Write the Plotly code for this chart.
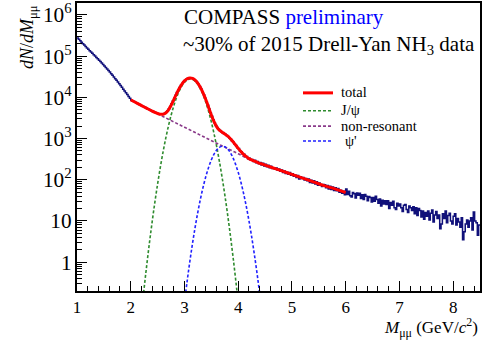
import numpy as np
import plotly.graph_objects as go

# ---------------- data ----------------
bin_lo, bin_hi = 1.0, 8.5          # histogram range, 0.025 GeV bins
data_counts = [
    # 1.00 - 2.00
    277000, 255600, 235800, 217600, 200900, 185800, 171400, 158500, 146600, 135800,
    125900, 116700, 108100, 100200, 93100, 86300, 79900, 73700, 68000, 62700,
    57750, 53040, 48700, 44720, 40960, 37430, 34200, 31230, 28440, 25820,
    23440, 21280, 19280, 17450, 15790, 14290, 12900, 11700, 10550, 9500,
    # 2.00 - 3.00
    8541, 8204, 7880, 7568, 7270, 6983, 6707, 6442, 6191, 5953,
    5728, 5515, 5308, 5105, 4911, 4726, 4557, 4402, 4258, 4126,
    4019, 3938, 3895, 3892, 3962, 4105, 4364, 4737, 5283, 6003,
    6943, 8100, 9509, 11168, 13036, 15111, 17294, 19586, 21800, 23936,
    # 3.00 - 4.00
    25798, 27386, 28523, 29210, 29365, 28988, 28111, 26732, 24998, 22909,
    20670, 18282, 15932, 13622, 11496, 9558, 7862, 6409, 5196, 4222,
    3460, 2840, 2420, 2075, 1860, 1675, 1575, 1460, 1405, 1315,
    1270, 1180, 1125, 1030, 975, 872, 818, 726, 678, 600,
    # 4.00 - 5.00
    575, 495, 478, 418, 415, 366, 368, 322, 334, 296,
    312, 278, 296, 258, 278, 243, 262, 229, 250, 217,
    238, 206, 226, 196, 214, 188, 196, 181, 192, 170,
    182, 160, 172, 150, 164, 141, 153, 136, 151, 128,
    # 5.00 - 6.00
    139, 121, 131, 113, 127, 105, 119, 108, 114, 99,
    107, 95, 104, 86, 98, 84, 94, 79, 89, 74,
    84, 75, 69, 77, 76, 64, 73, 60, 70, 58,
    67, 55, 64, 54, 61, 50, 56, 47, 53, 43,
    # 6.00 - 7.00
    60, 44, 53, 41, 38, 49, 46, 36, 48, 42,
    47, 35, 43, 33, 44, 40, 31, 39, 37, 29,
    37, 30, 40, 33, 27, 34, 23, 32, 26, 31,
    25, 31, 20, 28, 24, 30, 21, 19, 27, 23,
    # 7.00 - 8.00
    26, 21, 17, 24, 25, 19, 16, 23, 21, 18,
    22, 15, 21, 13.5, 20, 18, 12.5, 17.5, 11, 16,
    13, 17.5, 10.5, 15.5, 18.5, 9.5, 14, 17, 11.5, 14,
    6.5, 8.5, 15, 11.5, 17.5, 9, 13.5, 15.5, 10, 8.5,
    # 8.00 - 8.50
    13, 15, 8, 11.5, 9.5, 7, 12, 3.5, 5.5, 8.5,
    10.5, 7, 10, 12, 6, 16.5, 10, 9, 4.5, 8,
]

total_mass = [2.00, 2.05, 2.10, 2.15, 2.20, 2.25, 2.30, 2.35, 2.40, 2.45,
              2.50, 2.55, 2.60, 2.65, 2.70, 2.75, 2.80, 2.85, 2.90, 2.95,
              3.00, 3.05, 3.10, 3.15, 3.20, 3.25, 3.30, 3.35, 3.40, 3.45,
              3.50, 3.55, 3.60, 3.65, 3.70, 3.75, 3.80, 3.85, 3.90, 3.95,
              4.00, 4.05, 4.10, 4.15, 4.20, 4.25, 4.30, 4.35, 4.40, 4.45,
              4.50, 4.55, 4.60, 4.80, 5.00, 5.20, 5.40, 5.60, 5.80, 6.00]
total_vals = [8710, 8035, 7413, 6839, 6310, 5834, 5409, 5003, 4634, 4324,
              4060, 3897, 3890, 4177, 4923, 6364, 8679, 11998, 16148, 20732,
              25004, 28180, 29553, 28800, 26043, 21864, 17088, 12466, 8588, 5683,
              3735, 2564, 1928, 1606, 1429, 1294, 1155, 1003, 845, 700,
              579, 484, 414, 364, 326, 303, 284, 267, 251, 239,
              226, 215, 204, 166, 135, 110, 89, 72, 60, 49]

jpsi_mass = [2.20, 2.25, 2.30, 2.35, 2.40, 2.45, 2.50, 2.55, 2.60, 2.65,
             2.70, 2.75, 2.80, 2.85, 2.90, 2.95, 3.00, 3.05, 3.10, 3.15,
             3.20, 3.25, 3.30, 3.35, 3.40, 3.45, 3.50, 3.55, 3.60, 3.65,
             3.70, 3.75, 3.80, 3.85, 3.90, 3.95, 4.00]
jpsi_vals = [0.0591, 0.239, 0.893, 3.08, 9.82, 29.0, 78.9, 199, 462, 993,
             1972, 3622, 6138, 9638, 13960, 18700, 23120, 26430, 27930, 27290,
             24640, 20550, 15850, 11280, 7430, 4520, 2541, 1318, 634, 281,
             115, 43.6, 15.3, 4.94, 1.48, 0.408, 0.104]

nonres_mass = [2.0, 2.2, 2.4, 2.6, 2.8, 3.0, 3.2, 3.4, 3.6, 3.8, 4.0,
               4.2, 4.4, 4.6, 4.8, 5.0, 5.2, 5.4, 5.6, 5.8, 6.0]
nonres_vals = [8710, 6310, 4624, 3428, 2541, 1884, 1396, 1035, 767, 575, 427,
               316, 251, 204, 166, 135, 110, 89, 72, 60, 49]

psip_mass = [3.00, 3.05, 3.10, 3.15, 3.20, 3.25, 3.30, 3.35, 3.40, 3.45,
             3.50, 3.55, 3.60, 3.65, 3.70, 3.75, 3.80, 3.85, 3.90, 3.95,
             4.00, 4.05, 4.10, 4.15, 4.20, 4.25, 4.30, 4.35, 4.40, 4.45]
psip_vals = [0.106, 0.347, 1.04, 2.86, 7.22, 16.7, 35.5, 69.0, 123, 202,
             303, 418, 527, 611, 649, 632, 565, 463, 348, 240,
             152, 87.9, 46.8, 22.8, 10.2, 4.19, 1.57, 0.543, 0.172, 0.050]

legend_labels = ["total", "J/\u03c8", "non-resonant", "\u03c8'"]

# ---------------- figure ----------------
W, H = 489, 341
ML, MR, MT, MB = 77, 9, 1, 50
PW, PH = W - ML - MR, H - MT - MB

def px(xp):
    return (xp - ML) / PW

def py(yp):
    return (H - MB - yp) / PH

FONT = "Liberation Serif, Times New Roman, Times, serif"
C_DATA = "#10107a"
C_TOT = "#ff0000"
C_JPSI = "#2e8b2e"
C_NR = "#8a3a8a"
C_PSIP = "#2020ff"
DASH = "3px,2px"

edges = np.linspace(bin_lo, bin_hi, len(data_counts) + 1)
hist_y = list(data_counts) + [data_counts[-1]]

fig = go.Figure()
fig.add_trace(go.Scatter(x=edges, y=hist_y, mode="lines", line=dict(color=C_DATA, width=1.5, shape="hv"),
                         name="data", showlegend=False))
fig.add_trace(go.Scatter(x=jpsi_mass, y=jpsi_vals, mode="lines",
                         line=dict(color=C_JPSI, width=1.6, dash=DASH, shape="spline"),
                         name=legend_labels[1], showlegend=False))
fig.add_trace(go.Scatter(x=nonres_mass, y=nonres_vals, mode="lines",
                         line=dict(color=C_NR, width=1.6, dash=DASH, shape="spline"),
                         name=legend_labels[2], showlegend=False))
fig.add_trace(go.Scatter(x=psip_mass, y=psip_vals, mode="lines",
                         line=dict(color=C_PSIP, width=1.6, dash=DASH, shape="spline"),
                         name=legend_labels[3], showlegend=False))
fig.add_trace(go.Scatter(x=total_mass, y=total_vals, mode="lines",
                         line=dict(color=C_TOT, width=3, shape="spline"),
                         name=legend_labels[0], showlegend=False))

axis_common = dict(showline=True, linewidth=2, linecolor="black", mirror=True,
                   showgrid=False, zeroline=False, ticks="inside", ticklen=10,
                   tickwidth=1, tickcolor="black",
                   tickfont=dict(family=FONT, size=17, color="black"))

fig.update_xaxes(range=[1, 8.5], tick0=1, dtick=1,
                 minor=dict(dtick=0.2, ticks="inside", ticklen=5, tickcolor="black", tickwidth=1),
                 **axis_common)
fig.update_yaxes(type="log", range=[np.log10(0.2), 6.289], dtick=1, exponentformat="power",
                 minor=dict(dtick="D1", ticks="inside", ticklen=5, tickcolor="black", tickwidth=1),
                 **axis_common)

P = dict(xref="paper", yref="paper", showarrow=False)
annotations = [
    dict(text="COMPASS <span style='color:#0000ff'>preliminary</span>",
         x=px(182), y=py(15), xanchor="left", yanchor="middle",
         font=dict(family=FONT, size=21, color="black"), **P),
    dict(text="~30% of 2015 Drell-Yan NH<sub>3</sub> data",
         x=px(181), y=py(43), xanchor="left", yanchor="middle",
         font=dict(family=FONT, size=21, color="black"), **P),
    dict(text="<i>dN</i>/<i>dM</i><sub>\u03bc\u03bc</sub>", textangle=-90,
         x=px(28), y=1.0, xanchor="center", yanchor="top",
         font=dict(family=FONT, size=18, color="black"), **P),
    dict(text="<i>M</i><sub>\u03bc\u03bc</sub> (GeV/<i>c</i><sup>2</sup>)",
         x=1.0, y=py(328), xanchor="right", yanchor="middle",
         font=dict(family=FONT, size=17, color="black"), **P),
]

leg_y = [91.5, 109.5, 125, 140]
leg_col = [C_TOT, C_JPSI, C_NR, C_PSIP]
leg_w = [3, 1.6, 1.6, 1.6]
leg_dash = ["solid", DASH, DASH, DASH]
leg_tx = [339, 339, 339, 343]
shapes = []
for lab, yy, col, lw, ds, tx in zip(legend_labels, leg_y, leg_col, leg_w, leg_dash, leg_tx):
    shapes.append(dict(type="line", xref="paper", yref="paper", x0=px(303), x1=px(333),
                       y0=py(yy), y1=py(yy), line=dict(color=col, width=lw, dash=ds)))
    annotations.append(dict(text=lab, x=px(tx), y=py(yy - 0.5), xanchor="left", yanchor="middle",
                            font=dict(family=FONT, size=14.5, color="black"), **P))

fig.update_layout(width=W, height=H, margin=dict(l=ML, r=MR, t=MT, b=MB),
                  paper_bgcolor="white", plot_bgcolor="white",
                  annotations=annotations, shapes=shapes, showlegend=False)

fig.write_html("out.html")
